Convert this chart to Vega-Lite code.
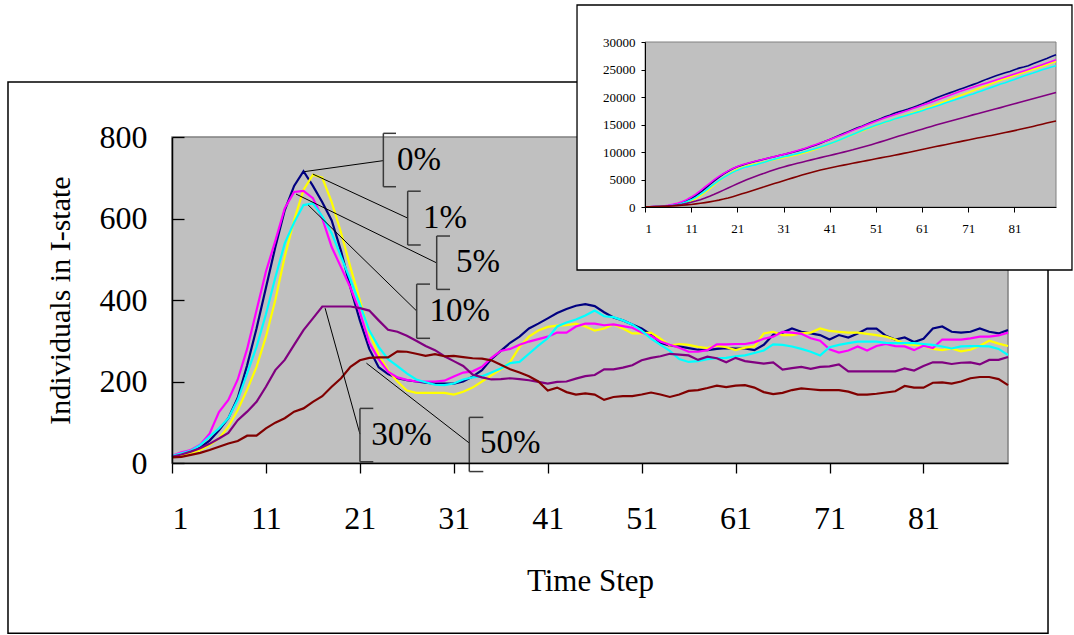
{
"$schema": "https://vega.github.io/schema/vega-lite/v6.json",
"width": 836, "height": 326,
"autosize": "none",
"padding": {"left": 172, "top": 137, "right": 66, "bottom": 172},
"background": "white",
"config": {"view": {"stroke": null}, "font": "Liberation Serif", "axis": {"grid": false, "labelFont": "Liberation Serif", "titleFont": "Liberation Serif", "labelColor": "#000", "titleColor": "#000", "domainColor": "#000", "tickColor": "#000", "titleFontWeight": "normal"}},
"datasets": {
"main": [
{"t":1,"a":15,"b":14,"c":18,"d":17,"e":15,"f":14},
{"t":2,"a":22,"b":18,"c":26,"d":24,"e":21,"f":15},
{"t":3,"a":28,"b":24,"c":32,"d":30,"e":28,"f":20},
{"t":4,"a":38,"b":32,"c":45,"d":44,"e":36,"f":25},
{"t":5,"a":55,"b":44,"c":72,"d":65,"e":47,"f":32},
{"t":6,"a":80,"b":60,"c":125,"d":85,"e":60,"f":40},
{"t":7,"a":110,"b":89,"c":155,"d":110,"e":74,"f":48},
{"t":8,"a":160,"b":130,"c":205,"d":155,"e":105,"f":54},
{"t":9,"a":240,"b":180,"c":280,"d":220,"e":126,"f":67},
{"t":10,"a":330,"b":236,"c":375,"d":285,"e":150,"f":67},
{"t":11,"a":430,"b":310,"c":470,"d":365,"e":187,"f":85},
{"t":12,"a":530,"b":400,"c":545,"d":455,"e":228,"f":99},
{"t":13,"a":620,"b":506,"c":625,"d":539,"e":253,"f":110},
{"t":14,"a":680,"b":596,"c":665,"d":590,"e":290,"f":126},
{"t":15,"a":716,"b":670,"c":668,"d":633,"e":326,"f":134},
{"t":16,"a":680,"b":707,"c":650,"d":637,"e":355,"f":150},
{"t":17,"a":640,"b":700,"c":600,"d":605,"e":384,"f":164},
{"t":18,"a":595,"b":640,"c":530,"d":564,"e":384,"f":187},
{"t":19,"a":520,"b":565,"c":480,"d":506,"e":384,"f":208},
{"t":20,"a":430,"b":480,"c":430,"d":449,"e":384,"f":236},
{"t":21,"a":350,"b":400,"c":370,"d":390,"e":380,"f":252},
{"t":22,"a":280,"b":320,"c":295,"d":325,"e":374,"f":258},
{"t":23,"a":235,"b":265,"c":255,"d":285,"e":350,"f":259},
{"t":24,"a":218,"b":228,"c":224,"d":255,"e":327,"f":259},
{"t":25,"a":208,"b":200,"c":210,"d":238,"e":322,"f":274},
{"t":26,"a":203,"b":178,"c":204,"d":220,"e":312,"f":273},
{"t":27,"a":200,"b":172,"c":200,"d":205,"e":300,"f":268},
{"t":28,"a":197,"b":172,"c":200,"d":198,"e":287,"f":263},
{"t":29,"a":195,"b":172,"c":200,"d":192,"e":277,"f":267},
{"t":30,"a":195,"b":172,"c":202,"d":191,"e":262,"f":262},
{"t":31,"a":195,"b":168,"c":212,"d":195,"e":250,"f":263},
{"t":32,"a":200,"b":175,"c":222,"d":205,"e":238,"f":260},
{"t":33,"a":212,"b":185,"c":225,"d":210,"e":217,"f":257},
{"t":34,"a":228,"b":200,"c":236,"d":213,"e":210,"f":256},
{"t":35,"a":255,"b":215,"c":258,"d":222,"e":205,"f":252},
{"t":36,"a":275,"b":230,"c":275,"d":232,"e":206,"f":241},
{"t":37,"a":295,"b":248,"c":280,"d":245,"e":208,"f":230},
{"t":38,"a":310,"b":285,"c":290,"d":248,"e":206,"f":222},
{"t":39,"a":330,"b":310,"c":298,"d":268,"e":203,"f":213},
{"t":40,"a":342,"b":325,"c":304,"d":288,"e":199,"f":200},
{"t":41,"a":355,"b":334,"c":310,"d":306,"e":195,"f":178},
{"t":42,"a":368,"b":337,"c":320,"d":335,"e":199,"f":185},
{"t":43,"a":378,"b":338,"c":320,"d":345,"e":200,"f":174},
{"t":44,"a":386,"b":342,"c":335,"d":352,"e":207,"f":168},
{"t":45,"a":390,"b":335,"c":342,"d":362,"e":213,"f":171},
{"t":46,"a":385,"b":325,"c":342,"d":374,"e":216,"f":168},
{"t":47,"a":370,"b":330,"c":338,"d":360,"e":230,"f":155},
{"t":48,"a":357,"b":340,"c":340,"d":358,"e":230,"f":162},
{"t":49,"a":350,"b":330,"c":336,"d":350,"e":234,"f":164},
{"t":50,"a":340,"b":318,"c":332,"d":340,"e":240,"f":164},
{"t":51,"a":330,"b":318,"c":320,"d":325,"e":252,"f":168},
{"t":52,"a":315,"b":320,"c":312,"d":305,"e":258,"f":173},
{"t":53,"a":295,"b":305,"c":298,"d":290,"e":262,"f":168},
{"t":54,"a":288,"b":288,"c":290,"d":275,"e":268,"f":162},
{"t":55,"a":286,"b":292,"c":283,"d":255,"e":266,"f":168},
{"t":56,"a":282,"b":290,"c":273,"d":248,"e":264,"f":177},
{"t":57,"a":278,"b":285,"c":273,"d":250,"e":253,"f":179},
{"t":58,"a":277,"b":282,"c":277,"d":255,"e":261,"f":184},
{"t":59,"a":280,"b":288,"c":291,"d":257,"e":257,"f":190},
{"t":60,"a":282,"b":284,"c":291,"d":258,"e":247,"f":186},
{"t":61,"a":281,"b":277,"c":292,"d":262,"e":258,"f":190},
{"t":62,"a":281,"b":283,"c":292,"d":264,"e":250,"f":191},
{"t":63,"a":277,"b":286,"c":296,"d":270,"e":247,"f":185},
{"t":64,"a":290,"b":318,"c":305,"d":276,"e":244,"f":174},
{"t":65,"a":315,"b":322,"c":310,"d":291,"e":247,"f":169},
{"t":66,"a":320,"b":314,"c":322,"d":290,"e":229,"f":172},
{"t":67,"a":330,"b":314,"c":320,"d":286,"e":233,"f":179},
{"t":68,"a":322,"b":318,"c":317,"d":280,"e":236,"f":183},
{"t":69,"a":318,"b":320,"c":306,"d":273,"e":231,"f":181},
{"t":70,"a":314,"b":330,"c":300,"d":264,"e":236,"f":179},
{"t":71,"a":303,"b":324,"c":279,"d":284,"e":237,"f":179},
{"t":72,"a":314,"b":322,"c":271,"d":290,"e":242,"f":179},
{"t":73,"a":308,"b":320,"c":276,"d":294,"e":225,"f":175},
{"t":74,"a":318,"b":320,"c":286,"d":298,"e":225,"f":168},
{"t":75,"a":330,"b":317,"c":276,"d":298,"e":225,"f":168},
{"t":76,"a":330,"b":314,"c":287,"d":298,"e":225,"f":170},
{"t":77,"a":312,"b":310,"c":292,"d":295,"e":225,"f":173},
{"t":78,"a":303,"b":303,"c":287,"d":294,"e":225,"f":176},
{"t":79,"a":308,"b":292,"c":286,"d":294,"e":232,"f":189},
{"t":80,"a":297,"b":290,"c":277,"d":294,"e":227,"f":185},
{"t":81,"a":305,"b":288,"c":288,"d":292,"e":238,"f":185},
{"t":82,"a":330,"b":280,"c":282,"d":290,"e":247,"f":197},
{"t":83,"a":335,"b":277,"c":303,"d":286,"e":247,"f":198},
{"t":84,"a":322,"b":281,"c":303,"d":281,"e":243,"f":195},
{"t":85,"a":320,"b":274,"c":303,"d":286,"e":246,"f":200},
{"t":86,"a":322,"b":278,"c":306,"d":287,"e":247,"f":208},
{"t":87,"a":330,"b":288,"c":310,"d":287,"e":242,"f":211},
{"t":88,"a":322,"b":300,"c":310,"d":286,"e":253,"f":211},
{"t":89,"a":318,"b":293,"c":313,"d":280,"e":253,"f":206},
{"t":90,"a":326,"b":287,"c":320,"d":265,"e":260,"f":191}
],
"cum": [
{"t":1,"a":20,"b":15,"c":20,"d":15,"e":15,"f":14},
{"t":2,"a":40,"b":30,"c":45,"d":30,"e":36,"f":29},
{"t":3,"a":70,"b":50,"c":80,"d":55,"e":64,"f":49},
{"t":4,"a":110,"b":80,"c":125,"d":90,"e":100,"f":74},
{"t":5,"a":160,"b":120,"c":195,"d":140,"e":147,"f":106},
{"t":6,"a":240,"b":180,"c":320,"d":210,"e":207,"f":146},
{"t":7,"a":350,"b":260,"c":475,"d":310,"e":281,"f":194},
{"t":8,"a":500,"b":380,"c":680,"d":450,"e":386,"f":248},
{"t":9,"a":750,"b":560,"c":960,"d":660,"e":512,"f":315},
{"t":10,"a":1100,"b":800,"c":1335,"d":950,"e":662,"f":382},
{"t":11,"a":1500,"b":1100,"c":1805,"d":1300,"e":849,"f":467},
{"t":12,"a":2050,"b":1550,"c":2350,"d":1750,"e":1077,"f":566},
{"t":13,"a":2650,"b":2050,"c":2975,"d":2300,"e":1330,"f":676},
{"t":14,"a":3350,"b":2650,"c":3640,"d":2900,"e":1620,"f":802},
{"t":15,"a":4050,"b":3300,"c":4310,"d":3550,"e":1946,"f":936},
{"t":16,"a":4750,"b":4000,"c":4960,"d":4200,"e":2301,"f":1086},
{"t":17,"a":5400,"b":4700,"c":5560,"d":4800,"e":2685,"f":1250},
{"t":18,"a":6000,"b":5350,"c":6090,"d":5350,"e":3069,"f":1437},
{"t":19,"a":6500,"b":5900,"c":6570,"d":5850,"e":3453,"f":1645},
{"t":20,"a":6950,"b":6400,"c":7000,"d":6300,"e":3837,"f":1881},
{"t":21,"a":7300,"b":6850,"c":7370,"d":6700,"e":4217,"f":2133},
{"t":22,"a":7600,"b":7200,"c":7665,"d":7050,"e":4591,"f":2391},
{"t":23,"a":7850,"b":7450,"c":7920,"d":7300,"e":4940,"f":2650},
{"t":24,"a":8080,"b":7680,"c":8145,"d":7500,"e":5270,"f":2909},
{"t":25,"a":8300,"b":7880,"c":8355,"d":7700,"e":5590,"f":3183},
{"t":26,"a":8520,"b":8060,"c":8560,"d":7950,"e":5900,"f":3456},
{"t":27,"a":8740,"b":8240,"c":8760,"d":8200,"e":6200,"f":3724},
{"t":28,"a":8950,"b":8420,"c":8960,"d":8450,"e":6490,"f":3987},
{"t":29,"a":9150,"b":8600,"c":9160,"d":8700,"e":6770,"f":4254},
{"t":30,"a":9350,"b":8780,"c":9360,"d":8900,"e":7030,"f":4516},
{"t":31,"a":9550,"b":8950,"c":9570,"d":9130,"e":7280,"f":4779},
{"t":32,"a":9750,"b":9130,"c":9790,"d":9300,"e":7520,"f":5039},
{"t":33,"a":9960,"b":9320,"c":10020,"d":9500,"e":7740,"f":5296},
{"t":34,"a":10180,"b":9520,"c":10260,"d":9700,"e":7950,"f":5552},
{"t":35,"a":10430,"b":9740,"c":10520,"d":9900,"e":8150,"f":5804},
{"t":36,"a":10700,"b":9970,"c":10790,"d":10150,"e":8360,"f":6045},
{"t":37,"a":10990,"b":10220,"c":11070,"d":10400,"e":8570,"f":6275},
{"t":38,"a":11290,"b":10500,"c":11360,"d":10650,"e":8780,"f":6497},
{"t":39,"a":11610,"b":10810,"c":11660,"d":10900,"e":8980,"f":6710},
{"t":40,"a":11940,"b":11130,"c":11960,"d":11200,"e":9180,"f":6910},
{"t":41,"a":12290,"b":11460,"c":12270,"d":11500,"e":9370,"f":7088},
{"t":42,"a":12650,"b":11800,"c":12590,"d":11800,"e":9570,"f":7273},
{"t":43,"a":13000,"b":12140,"c":12910,"d":12150,"e":9770,"f":7447},
{"t":44,"a":13350,"b":12480,"c":13245,"d":12500,"e":9980,"f":7615},
{"t":45,"a":13700,"b":12820,"c":13585,"d":12850,"e":10190,"f":7786},
{"t":46,"a":14050,"b":13150,"c":13930,"d":13200,"e":10400,"f":7954},
{"t":47,"a":14400,"b":13480,"c":14270,"d":13550,"e":10630,"f":8109},
{"t":48,"a":14700,"b":13820,"c":14610,"d":13900,"e":10860,"f":8271},
{"t":49,"a":15050,"b":14150,"c":14945,"d":14250,"e":11090,"f":8435},
{"t":50,"a":15400,"b":14470,"c":15275,"d":14550,"e":11330,"f":8599},
{"t":51,"a":15750,"b":14790,"c":15595,"d":14850,"e":11580,"f":8760},
{"t":52,"a":16050,"b":15110,"c":15910,"d":15150,"e":11840,"f":8926},
{"t":53,"a":16400,"b":15410,"c":16210,"d":15450,"e":12100,"f":9087},
{"t":54,"a":16700,"b":15700,"c":16500,"d":15700,"e":12370,"f":9242},
{"t":55,"a":17040,"b":15990,"c":16785,"d":16000,"e":12630,"f":9403},
{"t":56,"a":17300,"b":16280,"c":17060,"d":16250,"e":12890,"f":9573},
{"t":57,"a":17550,"b":16570,"c":17335,"d":16500,"e":13140,"f":9745},
{"t":58,"a":17800,"b":16850,"c":17610,"d":16750,"e":13400,"f":9922},
{"t":59,"a":18100,"b":17140,"c":17900,"d":17000,"e":13650,"f":10105},
{"t":60,"a":18400,"b":17420,"c":18190,"d":17250,"e":13900,"f":10284},
{"t":61,"a":18750,"b":17700,"c":18480,"d":17500,"e":14150,"f":10467},
{"t":62,"a":19100,"b":17980,"c":18770,"d":17800,"e":14400,"f":10651},
{"t":63,"a":19450,"b":18270,"c":19065,"d":18050,"e":14650,"f":10829},
{"t":64,"a":19800,"b":18590,"c":19370,"d":18300,"e":14890,"f":10996},
{"t":65,"a":20150,"b":18910,"c":19680,"d":18600,"e":15130,"f":11158},
{"t":66,"a":20450,"b":19220,"c":20000,"d":18900,"e":15360,"f":11323},
{"t":67,"a":20750,"b":19540,"c":20320,"d":19200,"e":15590,"f":11495},
{"t":68,"a":21050,"b":19860,"c":20635,"d":19450,"e":15820,"f":11671},
{"t":69,"a":21350,"b":20180,"c":20940,"d":19750,"e":16050,"f":11845},
{"t":70,"a":21650,"b":20510,"c":21240,"d":20000,"e":16280,"f":12017},
{"t":71,"a":21950,"b":20830,"c":21510,"d":20300,"e":16510,"f":12189},
{"t":72,"a":22250,"b":21150,"c":21770,"d":20550,"e":16750,"f":12361},
{"t":73,"a":22550,"b":21470,"c":22030,"d":20850,"e":16970,"f":12529},
{"t":74,"a":22900,"b":21790,"c":22300,"d":21150,"e":17190,"f":12690},
{"t":75,"a":23250,"b":22110,"c":22560,"d":21450,"e":17410,"f":12851},
{"t":76,"a":23550,"b":22420,"c":22830,"d":21750,"e":17630,"f":13014},
{"t":77,"a":23850,"b":22730,"c":23100,"d":22050,"e":17850,"f":13180},
{"t":78,"a":24150,"b":23030,"c":23370,"d":22350,"e":18070,"f":13349},
{"t":79,"a":24400,"b":23320,"c":23640,"d":22600,"e":18300,"f":13531},
{"t":80,"a":24650,"b":23610,"c":23900,"d":22900,"e":18530,"f":13709},
{"t":81,"a":24950,"b":23900,"c":24180,"d":23200,"e":18760,"f":13887},
{"t":82,"a":25250,"b":24180,"c":24450,"d":23500,"e":19000,"f":14077},
{"t":83,"a":25450,"b":24460,"c":24730,"d":23800,"e":19230,"f":14268},
{"t":84,"a":25700,"b":24740,"c":25010,"d":24100,"e":19450,"f":14456},
{"t":85,"a":26050,"b":25010,"c":25300,"d":24350,"e":19680,"f":14649},
{"t":86,"a":26350,"b":25290,"c":25590,"d":24650,"e":19900,"f":14850},
{"t":87,"a":26700,"b":25580,"c":25880,"d":24950,"e":20120,"f":15054},
{"t":88,"a":27000,"b":25880,"c":26170,"d":25200,"e":20350,"f":15258},
{"t":89,"a":27350,"b":26170,"c":26470,"d":25450,"e":20580,"f":15457},
{"t":90,"a":27690,"b":26470,"c":26770,"d":25680,"e":20810,"f":15641}
],
"ann": [
{"label":"0%","pt":15.09,"pv":715,"bx":23.5,"bt":809,"bb":678,"be":24.85,"lm":742,"tx":24.95,"ty":743},
{"label":"1%","pt":16.0,"pv":709,"bx":26.09,"bt":667,"bb":535,"be":27.48,"lm":601,"tx":27.72,"ty":601},
{"label":"5%","pt":14.2,"pv":660,"bx":29.18,"bt":557,"bb":426,"be":30.6,"lm":491,"tx":31.24,"ty":493},
{"label":"10%","pt":15.5,"pv":633,"bx":27.05,"bt":439,"bb":306,"be":28.47,"lm":373,"tx":28.4,"ty":373},
{"label":"30%","pt":17.3,"pv":380,"bx":21.01,"bt":134,"bb":3,"be":22.43,"lm":71,"tx":22.2,"ty":69},
{"label":"50%","pt":21.7,"pv":245,"bx":32.65,"bt":112,"bb":-21,"be":34.14,"lm":49,"tx":33.8,"ty":49}
]
},
"layer": [
{"layer": [
 {"data": {"values": [{}]},
  "mark": {"type": "rect", "fillOpacity": 0, "stroke": "#000", "strokeWidth": 1.5},
  "encoding": {
   "x": {"datum": -16.46, "type": "quantitative", "scale": {"domain": [1, 90], "nice": false, "zero": false}},
   "x2": {"datum": 94.26},
   "y": {"datum": 935, "type": "quantitative", "scale": {"domain": [0, 800], "nice": false, "zero": false}},
   "y2": {"datum": -418}}},
 {"data": {"values": [{}]},
  "mark": {"type": "rect", "fill": "#c0c0c0", "stroke": "#808080", "strokeWidth": 1.5},
  "encoding": {
   "x": {"datum": 1, "type": "quantitative"},
   "x2": {"datum": 90},
   "y": {"datum": 0, "type": "quantitative"},
   "y2": {"datum": 800}}},
 {"data": {"name": "main"},
  "transform": [{"fold": ["a", "b", "c", "d", "e", "f"], "as": ["s", "v"]}],
  "mark": {"type": "line", "strokeWidth": 2.2},
  "encoding": {
   "x": {"field": "t", "type": "quantitative",
    "axis": {"values": [1, 11, 21, 31, 41, 51, 61, 71, 81], "title": "Time Step", "zindex": 1, "domainWidth": 1.5, "tickSize": 10, "tickWidth": 1.3, "labelFontSize": 32, "labelPadding": 30, "titleFontSize": 31, "titlePadding": 32}},
   "y": {"field": "v", "type": "quantitative",
    "axis": {"values": [0, 200, 400, 600, 800], "title": "Individuals in I-state", "zindex": 1, "domainWidth": 1.5, "tickSize": -12, "tickWidth": 1.3, "labelFontSize": 32, "labelPadding": 37, "titleFontSize": 30, "titlePadding": 24}},
   "color": {"field": "s", "type": "nominal", "legend": null,
    "scale": {"domain": ["a", "b", "c", "d", "e", "f"], "range": ["#000080", "#FFFF00", "#FF00FF", "#00FFFF", "#800080", "#800000"]}}}},
 {"data": {"name": "ann"},
  "mark": {"type": "rule", "color": "#000", "strokeWidth": 1},
  "encoding": {
   "x": {"field": "pt", "type": "quantitative"},
   "y": {"field": "pv", "type": "quantitative"},
   "x2": {"field": "bx"}, "y2": {"field": "lm"}}},
 {"data": {"name": "ann"},
  "mark": {"type": "rule", "color": "#3a3a3a", "strokeWidth": 1.5},
  "encoding": {
   "x": {"field": "bx", "type": "quantitative"},
   "y": {"field": "bt", "type": "quantitative"},
   "y2": {"field": "bb"}}},
 {"data": {"name": "ann"},
  "mark": {"type": "rule", "color": "#3a3a3a", "strokeWidth": 1.5},
  "encoding": {
   "x": {"field": "bx", "type": "quantitative"},
   "x2": {"field": "be"},
   "y": {"field": "bt", "type": "quantitative"}}},
 {"data": {"name": "ann"},
  "mark": {"type": "rule", "color": "#3a3a3a", "strokeWidth": 1.5},
  "encoding": {
   "x": {"field": "bx", "type": "quantitative"},
   "x2": {"field": "be"},
   "y": {"field": "bb", "type": "quantitative"}}},
 {"data": {"name": "ann"},
  "mark": {"type": "text", "align": "left", "baseline": "middle", "font": "Liberation Serif", "fontSize": 33, "color": "#000"},
  "encoding": {
   "x": {"field": "tx", "type": "quantitative"},
   "y": {"field": "ty", "type": "quantitative"},
   "text": {"field": "label"}}}
]},
{"layer": [
 {"data": {"values": [{}]},
  "mark": {"type": "rect", "fill": "white", "stroke": "#000", "strokeWidth": 1.3},
  "encoding": {
   "x": {"datum": -13.72, "type": "quantitative", "scale": {"domain": [1, 90], "range": [473, 884], "nice": false, "zero": false}},
   "x2": {"datum": 93.46},
   "y": {"datum": 36727, "type": "quantitative", "scale": {"domain": [0, 30000], "range": [70, -95], "nice": false, "zero": false}},
   "y2": {"datum": -11455}}},
 {"data": {"values": [{}]},
  "mark": {"type": "rect", "fill": "#c0c0c0", "stroke": "#808080", "strokeWidth": 1},
  "encoding": {
   "x": {"datum": 1, "type": "quantitative"},
   "x2": {"datum": 90},
   "y": {"datum": 0, "type": "quantitative"},
   "y2": {"datum": 30000}}},
 {"data": {"name": "cum"},
  "transform": [{"fold": ["a", "b", "c", "d", "e", "f"], "as": ["s", "v"]}],
  "mark": {"type": "line", "strokeWidth": 1.6},
  "encoding": {
   "x": {"field": "t", "type": "quantitative",
    "axis": {"orient": "bottom", "offset": -256, "values": [1, 11, 21, 31, 41, 51, 61, 71, 81], "title": null, "zindex": 1, "tickSize": 5, "labelFontSize": 13, "labelPadding": 10}},
   "y": {"field": "v", "type": "quantitative",
    "axis": {"orient": "left", "offset": -473, "values": [0, 5000, 10000, 15000, 20000, 25000, 30000], "format": "d", "title": null, "zindex": 1, "tickSize": 4, "labelFontSize": 13, "labelPadding": 6}},
   "color": {"field": "s", "type": "nominal", "legend": null}}}
]}
],
"resolve": {"scale": {"x": "independent", "y": "independent"}, "axis": {"x": "independent", "y": "independent"}}
}
